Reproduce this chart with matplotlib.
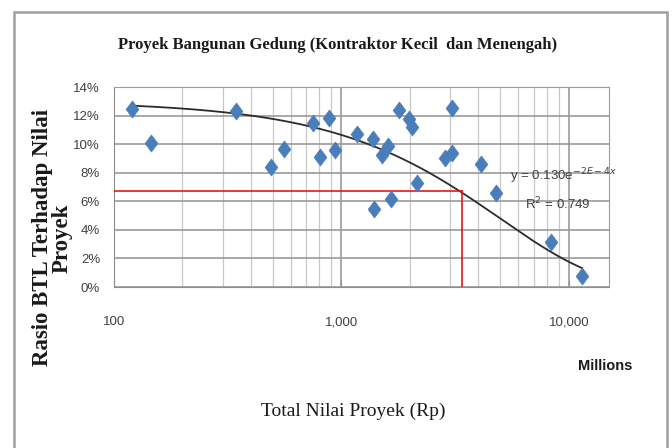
import numpy as np
import matplotlib
matplotlib.use('Agg')
import matplotlib.pyplot as plt
from matplotlib.ticker import FixedLocator, LogLocator, NullFormatter
from matplotlib.patches import Rectangle

# ── Data ─────────────────────────────────────────────────────────────────────
nilai_proyek = [120, 145, 345, 491, 558, 746, 801, 880, 938, 1172, 1372, 1396,
                1502, 1607, 1652, 1783, 1986, 2042, 2140, 2850, 3060, 3060,
                4085, 4786, 8318, 11430]
rasio_btl = [0.1244, 0.1006, 0.1232, 0.0842, 0.0968, 0.1146, 0.0912, 0.1185,
             0.0959, 0.1069, 0.1034, 0.0544, 0.0924, 0.0987, 0.0614, 0.1239,
             0.1174, 0.1122, 0.0726, 0.0901, 0.0936, 0.1251, 0.0861, 0.0656,
             0.0317, 0.0077]

# exponential trendline shown on the chart: y = a * exp(b * x)
trend_a = 0.130
trend_b = -2e-4

# red reference lines
ref_x = 3375
ref_y = 0.0674

x_ticks = [100, 1000, 10000]
x_ticklabels = ['100', '1,000', '10,000']
y_ticks = [0, 0.02, 0.04, 0.06, 0.08, 0.10, 0.12, 0.14]
y_ticklabels = ['0%', '2%', '4%', '6%', '8%', '10%', '12%', '14%']

NARROW = ['Liberation Sans Narrow', 'Liberation Sans', 'DejaVu Sans']
SERIF = ['Liberation Serif', 'DejaVu Serif']

fig = plt.figure(figsize=(6.72, 4.48), dpi=100)
fig.patch.set_facecolor('white')

# chart-area border like the Excel frame
fig.patches.append(Rectangle((14 / 672, -0.02), 653 / 672, 1 - 12 / 448 + 0.02,
                             transform=fig.transFigure, fill=False,
                             edgecolor='#A0A0A0', linewidth=1.8))

ax = fig.add_axes([114 / 672, 1 - 287 / 448, 495 / 672, 200 / 448])
ax.set_xscale('log')
ax.set_xlim(100, 15000)
ax.set_ylim(0, 0.14)

ax.xaxis.set_major_locator(FixedLocator(x_ticks))
ax.xaxis.set_minor_locator(LogLocator(base=10, subs=np.arange(2, 10)))
ax.xaxis.set_minor_formatter(NullFormatter())
ax.set_xticklabels(x_ticklabels, family=NARROW, fontsize=9.5, color='#404040')
ax.set_yticks(y_ticks)
ax.set_yticklabels(y_ticklabels, family=NARROW, fontsize=9.5, color='#404040')

ax.grid(True, which='major', color='#9A9A9A', linewidth=1.2)
ax.grid(True, which='minor', axis='x', color='#C8C8C8', linewidth=0.9)
ax.set_axisbelow(True)
for side in ['top', 'right']:
    ax.spines[side].set_color('#9A9A9A')
ax.spines['left'].set_color('#8C8C8C')
ax.spines['bottom'].set_color('#8C8C8C')
ax.tick_params(which='both', length=0)
ax.tick_params(axis='y', pad=10)
ax.tick_params(axis='x', which='major', length=5, color='#8C8C8C',
               direction='in', pad=21)

# trendline over the data range
xt = np.logspace(np.log10(min(nilai_proyek)), np.log10(max(nilai_proyek)), 200)
ax.plot(xt, trend_a * np.exp(trend_b * xt), color='#2B2B2B', linewidth=1.3, zorder=3)

# red reference lines
ax.plot([100, ref_x], [ref_y, ref_y], color='#E8151B', linewidth=1.2, zorder=3)
ax.plot([ref_x, ref_x], [0, ref_y], color='#E8151B', linewidth=1.2, zorder=3)

diamond = [(0, 1), (0.75, 0), (0, -1), (-0.75, 0), (0, 1)]
ax.scatter(nilai_proyek, rasio_btl, marker=diamond, s=150, color='#4A7EBB',
           edgecolor='#4A7EBB', linewidth=0.5, zorder=4)

ax.text(5500, 0.0745, 'y = 0.130e$^{-2E-4x}$', family=NARROW, fontsize=9.5,
        color='#404040', zorder=5)
ax.text(6400, 0.0545, 'R$^2$ = 0.749', family=NARROW, fontsize=9.5,
        color='#404040', zorder=5)

fig.text(338 / 672, 1 - 45 / 448,
         'Proyek Bangunan Gedung (Kontraktor Kecil  dan Menengah)',
         ha='center', va='center', family=SERIF, fontsize=12,
         fontweight='bold', color='#1A1A1A')
fig.text(52 / 672, 1 - 238 / 448, 'Rasio BTL Terhadap Nilai\nProyek',
         rotation=90, ha='center', va='center', family=SERIF, fontsize=16.5,
         fontweight='bold', color='#1A1A1A', linespacing=0.9)
fig.text(605 / 672, 1 - 366 / 448, 'Millions', ha='center', va='center',
         family=NARROW, fontsize=10.5, fontweight='bold', color='#1A1A1A')
fig.text(353 / 672, 1 - 411 / 448, 'Total Nilai Proyek (Rp)', ha='center',
         va='center', family=SERIF, fontsize=14, color='#1A1A1A')

fig.savefig('out.png', dpi=100, facecolor='white')
